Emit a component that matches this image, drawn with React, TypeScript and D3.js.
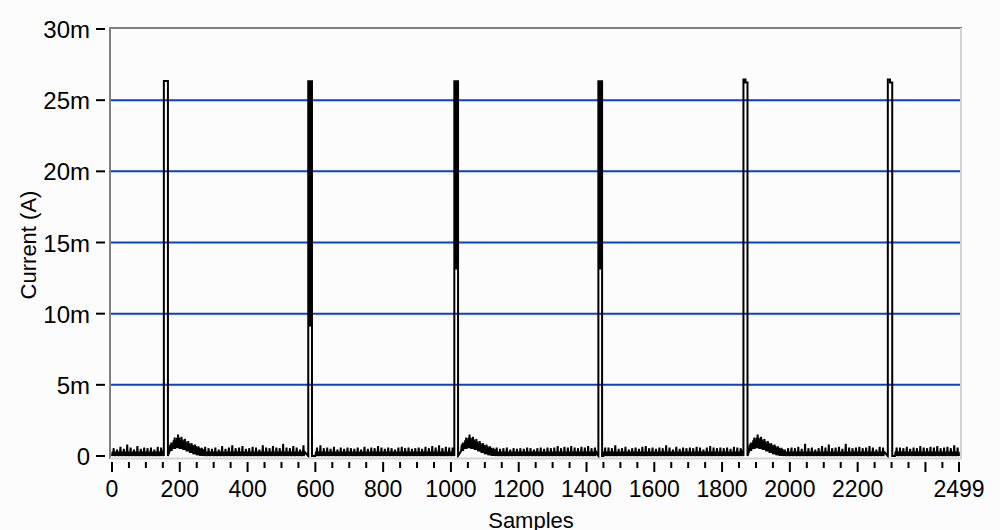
import React, { useEffect, useRef } from 'react';
import * as d3 from 'd3';

// pulses (sample index, current in mA)
const pulseStart = [153, 579, 1010, 1435, 1863, 2289];
const pulseEnd = [165, 590, 1021, 1446, 1875, 2302];
const pulseTopL = [26.35, 26.4, 26.4, 26.4, 26.45, 26.45];
const pulseTopR = [26.35, 26.4, 26.4, 26.4, 26.25, 26.25];
const pulseStep = [null, 9.1, 13.1, 13.1, null, null];

// decaying bump after some pulses
const bumpStart = [170, 1026, 1880];
const bumpMax = [0.95, 1.3, 1.5, 1.35, 1.2, 1.05, 0.9, 0.8, 0.68, 0.58];
const bumpMin = [0.35, 0.5, 0.55, 0.5, 0.42, 0.32, 0.22, 0.12, 0.05, 0];

// noise floor: peak of each 10-sample bin (mA)
const binSize = 10;
const floorLevel = 0.3;
const noisePeak = [
  0.55, 0.45, 0.65, 0.5, 0.8, 0.6, 0.45, 0.7, 0.5, 0.6,
  0.55, 0.6, 0.45, 0.65, 0.6, 0.5, 0.55, 0.6, 0.6, 0.6,
  0.6, 0.55, 0.5, 0.6, 0.45, 0.55, 0.5, 0.65, 0.55, 0.5,
  0.6, 0.45, 0.7, 0.5, 0.6, 0.75, 0.55, 0.6, 0.7, 0.5,
  0.55, 0.65, 0.6, 0.45, 0.75, 0.6, 0.55, 0.7, 0.6, 0.55,
  0.85, 0.6, 0.55, 0.7, 0.6, 0.45, 0.75, 0.6, 0.65, 0.55,
  0.6, 0.75, 0.55, 0.6, 0.5, 0.65, 0.45, 0.6, 0.5, 0.6,
  0.55, 0.5, 0.6, 0.45, 0.65, 0.5, 0.6, 0.55, 0.7, 0.6,
  0.5, 0.6, 0.55, 0.45, 0.6, 0.65, 0.55, 0.6, 0.5, 0.55,
  0.6, 0.5, 0.65, 0.55, 0.7, 0.6, 0.75, 0.55, 0.65, 0.6,
  0.6, 0.6, 0.6, 0.6, 0.6, 0.55, 0.6, 0.5, 0.55, 0.5,
  0.5, 0.55, 0.45, 0.6, 0.5, 0.55, 0.6, 0.45, 0.55, 0.5,
  0.55, 0.5, 0.6, 0.55, 0.45, 0.55, 0.6, 0.5, 0.6, 0.55,
  0.6, 0.7, 0.55, 0.65, 0.6, 0.7, 0.6, 0.55, 0.65, 0.6,
  0.7, 0.55, 0.6, 0.65, 0.6, 0.6, 0.6, 0.55, 0.75, 0.5,
  0.55, 0.65, 0.45, 0.55, 0.6, 0.5, 0.65, 0.7, 0.55, 0.6,
  0.5, 0.6, 0.55, 0.75, 0.6, 0.45, 0.65, 0.5, 0.6, 0.55,
  0.6, 0.55, 0.65, 0.6, 0.45, 0.6, 0.7, 0.6, 0.55, 0.6,
  0.55, 0.6, 0.5, 0.65, 0.6, 0.55, 0.6, 0.6, 0.6, 0.6,
  0.6, 0.55, 0.45, 0.6, 0.55, 0.5, 0.55, 0.6, 0.45, 0.55,
  0.6, 0.55, 0.65, 0.5, 0.85, 0.55, 0.6, 0.45, 0.55, 0.7,
  0.6, 0.8, 0.55, 0.6, 0.65, 0.5, 0.85, 0.6, 0.55, 0.6,
  0.65, 0.55, 0.6, 0.7, 0.6, 0.45, 0.65, 0.6, 0.7, 0.6,
  0.6, 0.6, 0.6, 0.55, 0.65, 0.5, 0.6, 0.55, 0.7, 0.6,
  0.55, 0.65, 0.6, 0.7, 0.55, 0.6, 0.65, 0.55, 0.75, 0.6,
];

const xMajor = [0, 200, 400, 600, 800, 1000, 1200, 1400, 1600, 1800, 2000, 2200, 2400, 2499];
const xLabels = [0, 200, 400, 600, 800, 1000, 1200, 1400, 1600, 1800, 2000, 2200, 2499];
const xMinor = d3.range(50, 2499, 50).filter(v => v % 200 !== 0);
const yTicks = [0, 5, 10, 15, 20, 25, 30];
const yGrid = [5, 10, 15, 20, 25];

const Chart = () => {
  const ref = useRef(null);

  useEffect(() => {
    const svg = d3.select(ref.current);
    svg.selectAll('*').remove();

    const x = d3.scaleLinear().domain([0, 2499]).range([112, 959]);
    const y = d3.scaleLinear().domain([0, 30]).range([456, 29]);
    const font = "'Liberation Sans', Arial, sans-serif";

    svg.append('rect').attr('width', 1000).attr('height', 530).attr('fill', '#fcfcfc');

    // grid
    svg.append('g')
      .selectAll('line')
      .data(yGrid)
      .enter().append('line')
      .attr('x1', 111).attr('x2', 960)
      .attr('y1', d => y(d)).attr('y2', d => y(d))
      .attr('stroke', '#0a40d2').attr('stroke-width', 2);

    // build trace points
    const pts: [number, number][] = [];
    let pi = 0;
    for (let b = 0; b < noisePeak.length; b++) {
      const s = b * binSize;
      if (pi < pulseStart.length && s + binSize > pulseStart[pi]) {
        const s0 = pulseStart[pi], s1 = pulseEnd[pi];
        pts.push([s0, 0]);
        const step = pulseStep[pi];
        if (step == null) {
          const mid = (s0 + s1) / 2;
          pts.push([s0, pulseTopL[pi]], [mid, pulseTopL[pi]], [mid, pulseTopR[pi]], [s1, pulseTopR[pi]]);
        } else {
          pts.push([s0, step]);
          let up = true;
          for (let i = s0; i <= s1; i += 0.5) {
            pts.push([i, up ? pulseTopL[pi] : step]);
            up = !up;
          }
          pts.push([s1, pulseTopR[pi]]);
        }
        pts.push([s1, 0]);
        while ((b + 1) * binSize <= s1) b++;
        pi++;
        continue;
      }
      let lo = 0, hi = floorLevel, peak = noisePeak[b];
      for (const bs of bumpStart) {
        if (s >= bs && s < bs + bumpMax.length * binSize) {
          const j = Math.floor((s - bs) / binSize);
          lo = bumpMin[j];
          hi = bumpMax[j] * 0.85;
          peak = bumpMax[j];
        }
      }
      pts.push([s, lo], [s + 2, hi], [s + 3, lo], [s + 5, peak], [s + 6, lo], [s + 8, hi]);
    }
    pts.push([2499, 0]);

    const line = d3.line<[number, number]>()
      .x(d => x(d[0]))
      .y(d => y(d[1]));

    svg.append('path')
      .datum(pts)
      .attr('d', line)
      .attr('fill', 'none')
      .attr('stroke', '#000')
      .attr('stroke-width', 2);

    // frame
    svg.append('line').attr('x1', 110).attr('x2', 110).attr('y1', 28).attr('y2', 459)
      .attr('stroke', '#808080').attr('stroke-width', 2);
    svg.append('line').attr('x1', 109).attr('x2', 962).attr('y1', 28).attr('y2', 28)
      .attr('stroke', '#808080').attr('stroke-width', 2);
    svg.append('line').attr('x1', 961).attr('x2', 961).attr('y1', 28).attr('y2', 459)
      .attr('stroke', '#d4d4d4').attr('stroke-width', 2);
    svg.append('line').attr('x1', 110).attr('x2', 962).attr('y1', 458.5).attr('y2', 458.5)
      .attr('stroke', '#d4d4d4').attr('stroke-width', 2);

    // y axis
    svg.append('g')
      .selectAll('line')
      .data(yTicks)
      .enter().append('line')
      .attr('x1', 96).attr('x2', 105)
      .attr('y1', d => y(d)).attr('y2', d => y(d))
      .attr('stroke', '#000').attr('stroke-width', 2);

    svg.append('g')
      .selectAll('text')
      .data(yTicks)
      .enter().append('text')
      .attr('x', 90)
      .attr('y', d => y(d) + 9)
      .attr('text-anchor', 'end')
      .style('font-family', font)
      .style('font-size', '24px')
      .style('fill', '#000')
      .text(d => (d === 0 ? '0' : `${d}m`));

    // x axis
    svg.append('g')
      .selectAll('line')
      .data(xMajor)
      .enter().append('line')
      .attr('x1', d => x(d)).attr('x2', d => x(d))
      .attr('y1', 462).attr('y2', 472)
      .attr('stroke', '#000').attr('stroke-width', 2);

    svg.append('g')
      .selectAll('line')
      .data(xMinor)
      .enter().append('line')
      .attr('x1', d => x(d)).attr('x2', d => x(d))
      .attr('y1', 462).attr('y2', 468)
      .attr('stroke', '#000').attr('stroke-width', 2);

    svg.append('g')
      .selectAll('text')
      .data(xLabels)
      .enter().append('text')
      .attr('x', d => x(d))
      .attr('y', 497)
      .attr('text-anchor', 'middle')
      .style('font-family', font)
      .style('font-size', '23px')
      .style('fill', '#000')
      .text(d => String(d));

    // axis titles
    svg.append('text')
      .attr('x', 531)
      .attr('y', 528)
      .attr('text-anchor', 'middle')
      .style('font-family', font)
      .style('font-size', '22px')
      .style('fill', '#000')
      .text('Samples');

    svg.append('text')
      .attr('transform', 'translate(36,245) rotate(-90)')
      .attr('text-anchor', 'middle')
      .style('font-family', font)
      .style('font-size', '22px')
      .style('fill', '#000')
      .text('Current (A)');
  }, []);

  return <svg ref={ref} width={1000} height={530} style={{ position: 'absolute', left: 0, top: 0 }}></svg>;
};

export default function App() {
  return <Chart />;
}
